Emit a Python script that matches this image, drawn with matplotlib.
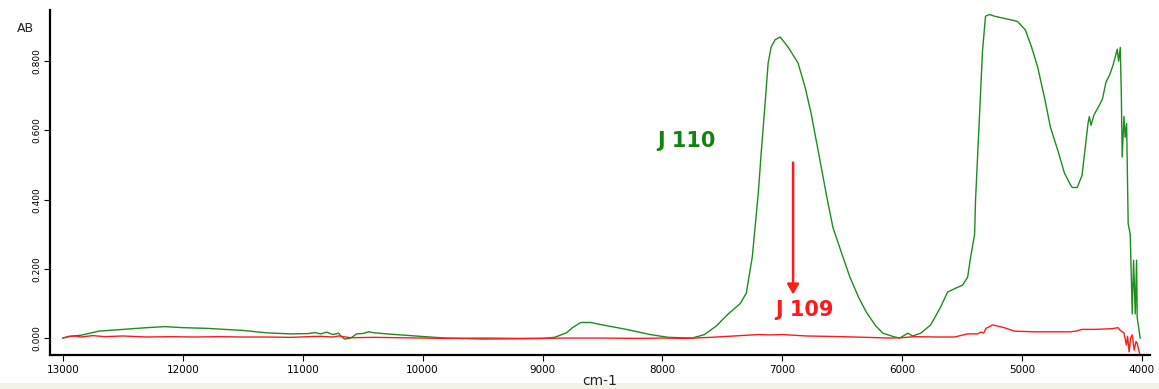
import matplotlib.pyplot as plt
import matplotlib.patches as mpatches
from matplotlib.ticker import FormatStrFormatter

# J 110 (green) spectrum
wn_110 = [13000, 12950, 12850, 12800, 12700, 12500, 12300, 12150, 12000, 11800,
          11500, 11300, 11100, 10950, 10900, 10850, 10800, 10750, 10700, 10680,
          10650, 10600, 10550, 10500, 10450, 10400, 10300, 10100, 9900, 9800,
          9500, 9200, 9000, 8900, 8800, 8750, 8680, 8600, 8500, 8300,
          8100, 7950, 7750, 7650, 7550, 7450, 7350, 7300, 7250, 7200,
          7176, 7143, 7118, 7093, 7060, 7018, 6952, 6869, 6810, 6760,
          6686, 6630, 6578, 6500, 6436, 6360, 6294, 6220, 6161, 6062,
          6020, 5953, 5912, 5845, 5762, 5679, 5621, 5554, 5496, 5454,
          5429, 5396, 5388, 5346, 5330, 5305, 5271, 5230, 5100, 5038,
          4972, 4920, 4870, 4810, 4764, 4700, 4647, 4600, 4581, 4540,
          4500, 4470, 4450, 4439, 4425, 4400, 4360, 4330, 4300, 4270,
          4240, 4206, 4195, 4181, 4172, 4165, 4150, 4140, 4128, 4115,
          4098, 4081, 4070, 4056, 4045, 4040, 4015]
ab_110 = [0.000, 0.005, 0.008, 0.012, 0.020, 0.025, 0.030, 0.033, 0.030, 0.028,
          0.022, 0.015, 0.012, 0.013, 0.016, 0.012, 0.017, 0.010, 0.014, 0.005,
          -0.003, 0.000, 0.012, 0.013, 0.018, 0.015, 0.012, 0.007, 0.002, 0.000,
          -0.003, -0.002, -0.001, 0.002, 0.015, 0.030, 0.045, 0.045, 0.038, 0.025,
          0.010, 0.002, 0.000, 0.010, 0.035, 0.070, 0.100, 0.130, 0.235, 0.420,
          0.535, 0.680, 0.795, 0.841, 0.862, 0.870, 0.841, 0.795, 0.725, 0.650,
          0.514, 0.410, 0.320, 0.240, 0.176, 0.115, 0.072, 0.035, 0.014, 0.003,
          0.000, 0.014, 0.006, 0.014, 0.038, 0.090, 0.133, 0.144, 0.153, 0.176,
          0.234, 0.300, 0.400, 0.710, 0.830, 0.930, 0.935, 0.930, 0.920, 0.915,
          0.890, 0.840, 0.783, 0.690, 0.610, 0.540, 0.477, 0.445, 0.435, 0.435,
          0.470, 0.560, 0.620, 0.640, 0.615, 0.645, 0.670, 0.690, 0.740, 0.760,
          0.790, 0.835, 0.800, 0.840, 0.700, 0.523, 0.640, 0.580, 0.620, 0.330,
          0.300, 0.070, 0.225, 0.070, 0.225, 0.060, 0.000]

# J 109 (red) spectrum
wn_109 = [13000, 12950, 12900, 12850, 12750, 12650, 12500, 12300, 12100, 11900,
          11700, 11500, 11300, 11100, 10950, 10850, 10750, 10700, 10600, 10400,
          10200, 10000, 9800, 9500, 9200, 9000, 8800, 8500, 8200, 8000,
          7800, 7600, 7500, 7400, 7300, 7200, 7100, 7000, 6800, 6500,
          6300, 6100, 6000, 5900, 5700, 5563, 5454, 5371, 5346, 5320,
          5300, 5246, 5150, 5063, 4900, 4600, 4550, 4500, 4400, 4250,
          4200, 4180, 4150, 4130, 4120, 4107, 4095, 4081, 4065, 4050,
          4040, 4020, 4007]
ab_109 = [0.000, 0.004, 0.006, 0.003, 0.007, 0.004, 0.006, 0.003, 0.004, 0.003,
          0.004, 0.003, 0.003, 0.002, 0.004, 0.005, 0.003, 0.006, 0.001, 0.002,
          0.001, 0.000, -0.001, 0.000, -0.001, -0.001, 0.000, 0.000, -0.001, 0.000,
          -0.001, 0.002, 0.004, 0.006, 0.008, 0.010, 0.009, 0.010, 0.006, 0.004,
          0.002, 0.000, 0.001, 0.004, 0.003, 0.003, 0.012, 0.012, 0.017, 0.015,
          0.028, 0.038, 0.030, 0.020, 0.018, 0.018, 0.020, 0.025, 0.025, 0.027,
          0.030, 0.022, 0.015, -0.020, 0.005, -0.040, 0.000, 0.009, -0.035, -0.010,
          -0.015, -0.045, -0.052]

x_ticks = [13000, 12000, 11000, 10000, 9000, 8000, 7000, 6000, 5000, 4000]
y_ticks = [0.0, 0.2, 0.4, 0.6, 0.8]

GREEN = "#1E8C1E"
LABEL_GREEN = "#138213"
RED = "#FF1A1A"


def main():
    fig = plt.figure(figsize=(11.59, 3.89), dpi=100)
    fig.patch.set_facecolor("white")
    # light strip at the bottom of the window
    fig.patches.append(mpatches.Rectangle((0, 0), 1, 6 / 389, transform=fig.transFigure,
                                          facecolor="#F3F1E8", edgecolor="none", zorder=0))

    ax = fig.add_axes([50 / 1159, 1 - 355 / 389, 1100 / 1159, 345 / 389])
    ax.plot(wn_110, ab_110, color=GREEN, lw=1.0)
    ax.plot(wn_109, ab_109, color=RED, lw=1.0)

    ax.set_xlim(13108, 3933)
    ax.set_ylim(-0.049, 0.948)
    ax.set_xticks(x_ticks)
    ax.set_yticks(y_ticks)
    ax.yaxis.set_major_formatter(FormatStrFormatter("%.3f"))

    for side in ("top", "right"):
        ax.spines[side].set_visible(False)
    for side in ("left", "bottom"):
        ax.spines[side].set_linewidth(1.6)
        ax.spines[side].set_color("black")

    ax.tick_params(axis="x", length=4, width=0.8, labelsize=7.5, pad=3)
    ax.tick_params(axis="y", length=4, width=0.8, labelsize=6.5, pad=2, labelrotation=90)
    for lab in ax.get_yticklabels():
        lab.set_va("center")

    ax.text(7800, 0.57, "J 110", color=LABEL_GREEN, fontsize=15, fontweight="bold",
            ha="center", va="center")
    ax.text(6818, 0.08, "J 109", color=RED, fontsize=15, fontweight="bold",
            ha="center", va="center")
    ax.annotate("", xy=(6910, 0.118), xytext=(6910, 0.515),
                arrowprops={"arrowstyle": "-|>,head_width=0.35,head_length=0.6",
                            "color": RED, "lw": 1.8})

    fig.text(25 / 1159, 1 - 28 / 389, "AB", fontsize=9, color="#222222",
             ha="center", va="center")
    fig.text(600 / 1159, 1 - 381 / 389, "cm-1", fontsize=10, color="#222222",
             ha="center", va="center")

    fig.savefig("out.png", dpi=100, facecolor="white")
    plt.close(fig)


if __name__ == "__main__":
    main()
